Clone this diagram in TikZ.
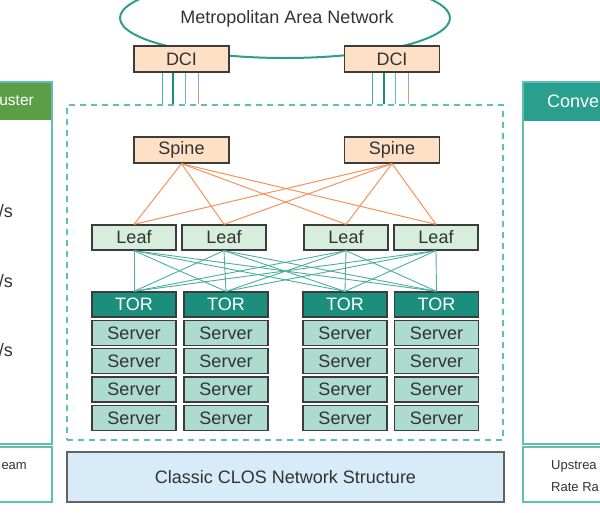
\documentclass[tikz,border=0pt]{standalone}
\usepackage{fontspec}
\setmainfont{Liberation Sans}
\usetikzlibrary{shapes.geometric,calc}
\definecolor{tealline}{HTML}{2A9F8E}
\definecolor{tealdark}{HTML}{1B8E7E}
\definecolor{teallight}{HTML}{5FC0B1}
\definecolor{boxline}{HTML}{3C3C3C}
\definecolor{peach}{HTML}{FDE0C6}
\definecolor{leaffill}{HTML}{D7EEDD}
\definecolor{serverfill}{HTML}{ADDBCD}
\definecolor{closfill}{HTML}{D7EBF8}
\definecolor{orangeline}{HTML}{F4935B}
\definecolor{greenhead}{HTML}{5C9E45}
\definecolor{txt}{HTML}{333333}
\begin{document}
\begin{tikzpicture}[x=1pt,y=-1pt,
  every node/.style={inner sep=0pt,font=\fontsize{18}{21}\selectfont,text=txt},
  box/.style={draw=boxline,line width=1.3pt,rectangle,minimum height=25pt},
  peachbox/.style={box,fill=peach,minimum width=95pt,minimum height=26pt},
  leafbox/.style={box,fill=leaffill,minimum width=84pt},
  torbox/.style={box,fill=tealdark,minimum width=84pt,text=white},
  serverbox/.style={box,fill=serverfill,minimum width=84pt},
  sl/.style={orangeline,line width=1pt},
  lt/.style={tealline!85,line width=0.9pt},
  panel/.style={draw=teallight,line width=1.3pt,fill=white},
  small/.style={font=\fontsize{13}{15}\selectfont}]
\useasboundingbox (0,0) rectangle (600,512);

% side panels
\draw[panel] (-5,82) rectangle (52,444);
\fill[greenhead] (-5,83) rectangle (51.3,120);
\node[anchor=east,text=white,font=\fontsize{15.5}{18}\selectfont] (lhead) at (34,101) {uster};
\node[anchor=east] (l1) at (13,211) {/s};
\node[anchor=east] (l2) at (13,281) {/s};
\node[anchor=east] (l3) at (13,350) {/s};
\draw[panel] (-5,447) rectangle (52,502);
\node[anchor=east,small] (lfoot) at (27,466) {eam};

\draw[panel] (523,82) rectangle (605,444);
\fill[tealline] (523.7,83) rectangle (605,121);
\node[anchor=west,text=white] (rhead) at (547,101) {Conve};
\draw[panel] (523,447) rectangle (605,502);
\node[anchor=west,small] (rf1) at (551,466) {Upstrea};
\node[anchor=west,small] (rf2) at (551,487) {Rate Ra};

% MAN ellipse
\node[ellipse,draw=tealline,line width=2pt,minimum width=330pt,minimum height=80pt] (man) at (285,18) {};
\node (mantext) at (287,19) {Metropolitan Area Network};

% fabric
\node[draw=teallight,line width=1.5pt,dash pattern=on 6pt off 5pt,rectangle,minimum width=436pt,minimum height=335pt] (fabric) at (285,272.5) {};

% DCI
\node[peachbox] (dci1) at (181.5,59) {DCI};
\node[peachbox] (dci2) at (392,59) {DCI};

\foreach \d in {dci1,dci2}{
  \draw[tealline!85,line width=1pt] ([xshift=29pt]\d.south west) -- ([xshift=29pt]\d.south west |- fabric.north);
  \draw[tealdark,line width=1.8pt] ([xshift=40pt]\d.south west) -- ([xshift=40pt]\d.south west |- fabric.north);
  \draw[teallight,line width=1pt] ([xshift=52pt]\d.south west) -- ([xshift=52pt]\d.south west |- fabric.north);
  \coordinate (\d m) at ($([xshift=65pt]\d.south west)!0.5!([xshift=65pt]\d.south west |- fabric.north)$);
  \draw[teallight!70!orangeline,line width=1.2pt] ([xshift=65pt]\d.south west) -- (\d m);
  \draw[orangeline!70!teallight,line width=1.2pt] (\d m) -- ([xshift=65pt]\d.south west |- fabric.north);
}

% spines
\node[peachbox] (sp1) at (181.5,150) {Spine};
\node[peachbox] (sp2) at (392,150) {Spine};

% leaves
\node[leafbox] (lf1) at (134,237.5) {Leaf};
\node[leafbox] (lf2) at (224,237.5) {Leaf};
\node[leafbox] (lf3) at (346,237.5) {Leaf};
\node[leafbox] (lf4) at (436,237.5) {Leaf};

% TORs and servers
\foreach \i/\x in {1/134,2/226,3/345,4/436.5}{
  \node[torbox] (tor\i) at (\x,304.5) {TOR};
  \foreach \j/\y in {1/333,2/361.3,3/389.6,4/418}{
    \node[serverbox] (srv\i\j) at (\x,\y) {Server};
  }
}

% spine-leaf links
\foreach \s in {sp1,sp2}{
  \foreach \l in {lf1,lf2,lf3,lf4}{
    \draw[sl] (\s.south) -- (\l.north);
  }
}
% leaf-tor links
\foreach \l in {lf1,lf2,lf3,lf4}{
  \foreach \t in {tor1,tor2,tor3,tor4}{
    \draw[lt] (\l.south) -- (\t.north);
  }
}

% CLOS label
\node[box,fill=closfill,minimum width=437pt,minimum height=50pt,draw=boxline!80] (clos) at (285.5,477) {Classic CLOS Network Structure};
\end{tikzpicture}
\end{document}
